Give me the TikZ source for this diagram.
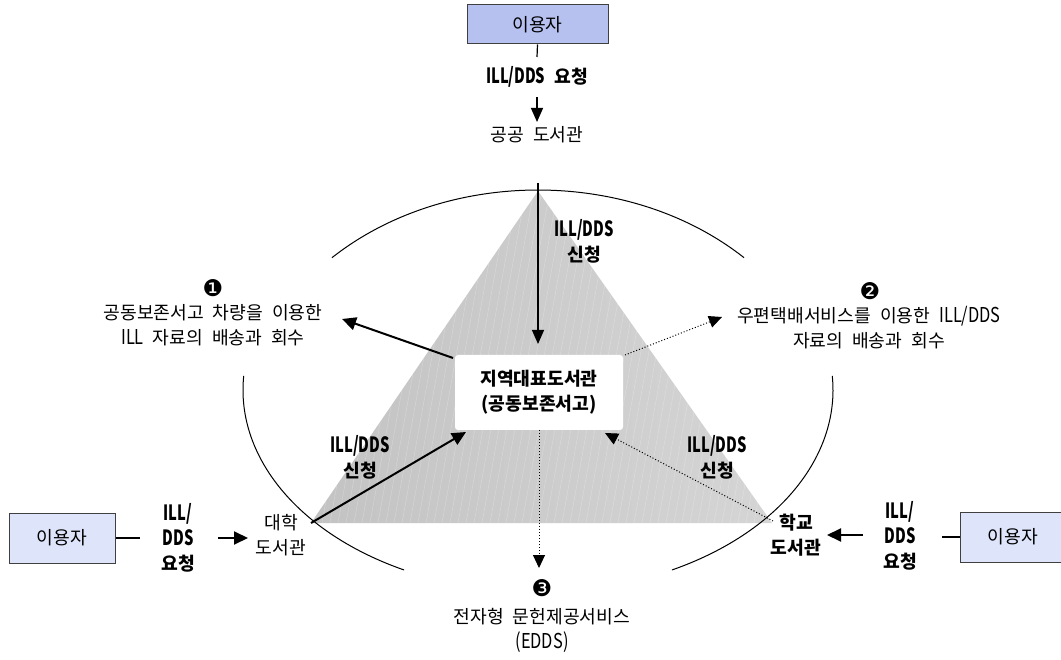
\documentclass[tikz,border=0pt]{standalone}
\usepackage{fontspec}
\setmainfont[WordSpace=2.2]{Noto Sans CJK KR}
\newfontfamily\latr[FakeStretch=0.8]{Noto Sans CJK KR}
\newfontfamily\latb[FakeStretch=0.7]{Noto Sans CJK KR}
\newfontfamily\dv{DejaVu Sans}
\usetikzlibrary{arrows.meta}
\newcommand\lat[1]{{\latr\fontsize{20.5}{25}\selectfont #1}}
\newcommand\blat[1]{{\latb\bfseries\fontsize{21}{25}\selectfont #1}}
\newcommand\cnum[1]{{\dv\fontsize{23}{23}\selectfont #1}}
\definecolor{userblue}{RGB}{182,193,240}
\definecolor{userlight}{RGB}{222,228,250}
\definecolor{boxline}{RGB}{64,64,64}
\definecolor{triL}{RGB}{195,195,195}
\definecolor{triR}{RGB}{213,213,213}
\tikzset{
  txt/.style={inner sep=0pt, align=center, font=\fontsize{18.2}{25}\selectfont},
  btxt/.style={txt, font=\fontsize{18.2}{25}\selectfont\bfseries},
  userbox/.style={draw=boxline, line width=1pt, inner sep=0pt, font=\fontsize{18.2}{20}\selectfont},
  bigarrow/.style={line width=2pt, -{Triangle[length=14pt,width=13pt]}},
  midarrow/.style={line width=1.3pt, -{Triangle[length=14pt,width=12pt]}},
  dotarrow/.style={line width=1pt, dotted, -{Triangle[length=13pt,width=12pt]}},
  arcline/.style={line width=1pt}
}
\begin{document}
\begin{tikzpicture}[x=1pt,y=-1pt]
\useasboundingbox (0,0) rectangle (1061,660);
\fill[white] (0,0) rectangle (1061,660);

% triangle
\coordinate (apex) at (538,191);
\coordinate (vl) at (311,523);
\coordinate (vr) at (772,523);
\shade[left color=triL, right color=triR] (apex) -- (vl) -- (vr) -- cycle;
\begin{scope}
  \clip (apex) -- (vl) -- (vr) -- cycle;
  \foreach \i in {0,8,...,560} {
    \draw[white, opacity=0.3, line width=0.4pt] (250+\i,523) -- (250+\i+60,190);
  }
\end{scope}

% ellipse arcs
\draw[arcline] ([shift={(134.3:295pt and 238pt)}]538,428) arc[start angle=134.3, end angle=45.7, x radius=295pt, y radius=238pt];
\draw[arcline] ([shift={(176:295pt and 202pt)}]538,390) arc[start angle=176, end angle=243, x radius=295pt, y radius=202pt];
\draw[arcline] ([shift={(4:295pt and 202pt)}]538,390) arc[start angle=4, end angle=-63, x radius=295pt, y radius=202pt];

% top
\node[userbox, fill=userblue, minimum width=141pt, minimum height=39pt] (topuser) at (537.5,24.5) {이용자};
\node[btxt] (topreq) at (537,77) {\blat{ILL/DDS} 요청};
\node[txt] (publib) at (537,135) {공공 도서관};
\coordinate (tl1) at (537,57);
\coordinate (ta1) at (537,97);
\coordinate (ta2) at (537,122);
\draw[line width=1.2pt] (topuser.south) -- (tl1);
\draw[midarrow] (ta1) -- (ta2);

% center box
\node[fill=white, rounded corners=3pt, minimum width=168pt, minimum height=75pt, inner sep=0pt] (cbox) at (539,392.5) {};
\node[btxt] (ctext) at (539,392) {지역대표도서관\\(공동보존서고)};

% vertical arrow
\coordinate (vtop) at (538,183);
\coordinate (vtip) at (538,344);
\draw[midarrow] (vtop) -- (vtip);
\node[btxt] (lblTop) at (584,241) {\blat{ILL/DDS}\\신청};

% arrow 1
\coordinate (a1s) at (453,358);
\coordinate (a1t) at (342,319);
\draw[bigarrow] (a1s) -- (a1t);
\node[txt] (n1) at (213,288) {\cnum{❶}};
\node[txt] (t1) at (213,325) {공동보존서고 차량을 이용한\\\lat{ILL} 자료의 배송과 회수};

% arrow 2
\coordinate (a2s) at (625,355);
\coordinate (a2t) at (722,317);
\draw[dotarrow] (a2s) -- (a2t);
\node[txt] (n2) at (870,291) {\cnum{❷}};
\node[txt] (t2) at (869,328) {우편택배서비스를 이용한 \lat{ILL/DDS}\\자료의 배송과 회수};

% arrow 3
\coordinate (a3s) at (539,430);
\coordinate (a3t) at (539,568);
\draw[dotarrow] (a3s) -- (a3t);
\node[txt] (n3) at (542,588) {\cnum{❸}};
\node[txt] (t3) at (542,630) {전자형 문헌제공서비스\\\lat{(EDDS)}};

% left library arrow
\coordinate (a4t) at (466,432);
\draw[bigarrow] (vl) -- (a4t);
\node[btxt] (lblL) at (360,457) {\blat{ILL/DDS}\\신청};

% right library dotted arrow
\coordinate (a5s) at (773,521);
\coordinate (a5t) at (605,433);
\draw[dotarrow] (a5s) -- (a5t);
\node[btxt] (lblR) at (717,457) {\blat{ILL/DDS}\\신청};

% left user
\node[userbox, fill=userlight, minimum width=106pt, minimum height=50pt] (luser) at (62,538) {이용자};
\coordinate (ll1) at (140,538);
\draw[line width=1.5pt] (luser.east) -- (ll1);
\node[btxt] (lreq) at (178,538) {\blat{ILL/}\\\blat{DDS}\\요청};
\coordinate (la1) at (218,538);
\coordinate (la2) at (248,538);
\draw[bigarrow] (la1) -- (la2);
\node[txt] (univ) at (281,535) {대학\\도서관};

% right user
\node[userbox, fill=userlight, minimum width=106pt, minimum height=50pt] (ruser) at (1013,537) {이용자};
\coordinate (rl1) at (942,537);
\draw[line width=1.5pt] (ruser.west) -- (rl1);
\node[btxt] (rreq) at (900,536) {\blat{ILL/}\\\blat{DDS}\\요청};
\coordinate (ra1) at (863,535);
\coordinate (ra2) at (827,535);
\draw[bigarrow] (ra1) -- (ra2);
\node[btxt] (school) at (796,535) {학교\\도서관};
\end{tikzpicture}
\end{document}
